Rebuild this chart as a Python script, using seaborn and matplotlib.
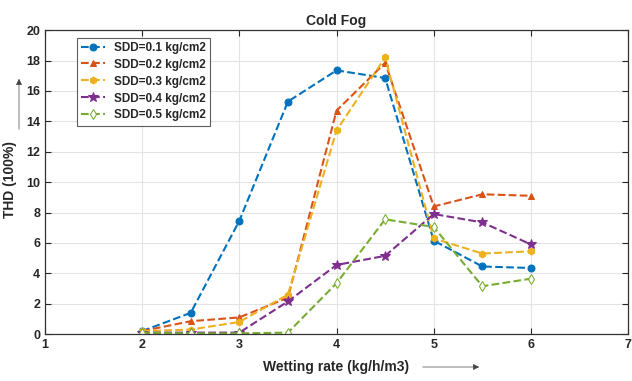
import pandas as pd
import matplotlib
matplotlib.use("Agg")
import matplotlib.pyplot as plt
import seaborn as sns

# data
wetting = [2, 2.5, 3, 3.5, 4, 4.5, 5, 5.5, 6]
sdd_01 = [0.2, 1.4, 7.45, 15.3, 17.35, 16.85, 6.15, 4.45, 4.35]
sdd_02 = [0.2, 0.85, 1.1, 2.4, 14.7, 17.85, 8.4, 9.2, 9.1]
sdd_03 = [0.2, 0.3, 0.8, 2.6, 13.4, 18.2, 6.3, 5.3, 5.45]
sdd_04 = [0.1, 0.1, 0.1, 2.15, 4.55, 5.15, 7.9, 7.35, 5.9]
sdd_05 = [0.1, 0.05, 0.05, 0.1, 3.35, 7.55, 7.05, 3.15, 3.65]

labels = ["SDD=0.1 kg/cm2", "SDD=0.2 kg/cm2", "SDD=0.3 kg/cm2",
          "SDD=0.4 kg/cm2", "SDD=0.5 kg/cm2"]
series = [sdd_01, sdd_02, sdd_03, sdd_04, sdd_05]
colors = ["#0072BD", "#D95319", "#EDB120", "#7E2F8E", "#77AC30"]
markers = ["o", "^", "h", "*", "d"]

sns.set_style("ticks")
plt.rcParams['font.family'] = ['Liberation Sans', 'DejaVu Sans']
plt.rcParams['font.weight'] = 'bold'

fig = plt.figure(figsize=(6.32, 3.81), dpi=100)
ax = fig.add_axes([0.071, 0.123, 0.923, 0.798])

for lab, vals, col, mk in zip(labels, series, colors, markers):
    df = pd.DataFrame({'Wetting': wetting, 'THD': vals})
    face = 'white' if mk == 'd' else col
    ms = 7 if mk == '*' else 5
    sns.lineplot(x='Wetting', y='THD', data=df, ax=ax, color=col,
                 linestyle='--', linewidth=1.5, marker=mk, markersize=ms,
                 markerfacecolor=face, markeredgecolor=col, label=lab)

ax.set_xlim(1, 7)
ax.set_ylim(0, 20)
ax.set_xticks(range(1, 8))
ax.set_yticks(range(0, 21, 2))
ax.grid(True, color='#e3e3e3', linewidth=0.8)
ax.tick_params(direction='in', top=True, right=True, labelsize=9, length=4)
for s in ax.spines.values():
    s.set_color('#333333')
    s.set_linewidth(0.9)
for t in ax.get_xticklabels() + ax.get_yticklabels():
    t.set_fontweight('bold')

ax.set_title("Cold Fog", fontsize=10, fontweight='bold', pad=4)
ax.set_xlabel("Wetting rate (kg/h/m3)", fontsize=10, fontweight='bold')
ax.set_ylabel("THD (100%)", fontsize=10, fontweight='bold')

# label positions and arrows next to them
ax.xaxis.set_label_coords(0.50, -0.085)
ax.yaxis.set_label_coords(-0.048, 0.507)
fig.patches.append(matplotlib.patches.FancyArrowPatch(
    (420 / 632, 1 - 367 / 381), (482 / 632, 1 - 367 / 381),
    transform=fig.transFigure, arrowstyle='-|>', mutation_scale=9,
    color='#444444', linewidth=0.5))
fig.patches.append(matplotlib.patches.FancyArrowPatch(
    (19 / 632, 1 - 132 / 381), (19 / 632, 1 - 76 / 381),
    transform=fig.transFigure, arrowstyle='-|>', mutation_scale=9,
    color='#444444', linewidth=0.5))

leg = ax.legend(loc='upper left', fontsize=8.5, frameon=True, fancybox=False,
                edgecolor='#333333', handlelength=2.0, borderpad=0.35,
                labelspacing=0.42, bbox_to_anchor=(0.045, 0.995))
leg.get_frame().set_linewidth(0.8)
for t in leg.get_texts():
    t.set_fontweight('bold')

fig.savefig("out.png", dpi=100)
